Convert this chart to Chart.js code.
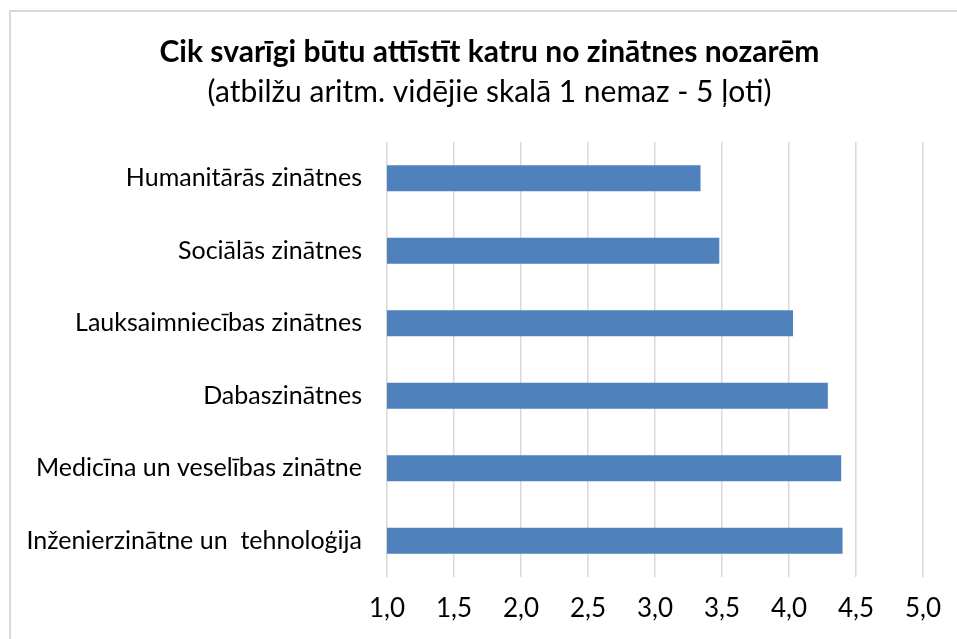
<!DOCTYPE html>
<html>
<head>
<meta charset="utf-8">
<script src="https://cdn.jsdelivr.net/npm/chart.js@4.4.1/dist/chart.umd.min.js"></script>
<style>
  html, body { margin: 0; padding: 0; background: #fff; }
  #wrap { width: 957px; height: 639px; }
</style>
</head>
<body>
<div id="wrap"><canvas id="myChart" width="957" height="639"></canvas></div>
<script>
const kategorijas = [
  'Humanitārās zinātnes',
  'Sociālās zinātnes',
  'Lauksaimniecības zinātnes',
  'Dabaszinātnes',
  'Medicīna un veselības zinātne',
  'Inženierzinātne un  tehnoloģija'
];
const vertibas = [3.34, 3.48, 4.03, 4.29, 4.39, 4.40];
const asisMin = 1;
const asisMax = 5;
const asisSolis = 0.5;

const fonts = 'Lato, "Open Sans", sans-serif';

// gray frame round the chart, like the Excel chart area border
const ramis = {
  id: 'ramis',
  beforeDraw(chart) {
    const c = chart.ctx;
    c.save();
    c.strokeStyle = '#d9d9d9';
    c.lineWidth = 2;
    c.beginPath();
    c.moveTo(10, 639);
    c.lineTo(10, 11);
    c.lineTo(957, 11);
    c.stroke();
    c.restore();
  }
};

const ctx = document.getElementById('myChart');

new Chart(ctx, {
  type: 'bar',
  data: {
    labels: kategorijas,
    datasets: [{
      label: '',
      data: vertibas,
      yAxisID: 'y',
      backgroundColor: '#4f81bd',
      borderWidth: 0,
      categoryPercentage: 1,
      barPercentage: 0.36
    }]
  },
  options: {
    responsive: false,
    animation: false,
    indexAxis: 'y',
    layout: {
      padding: { left: 22, right: 0, top: 0, bottom: 0 }
    },
    plugins: {
      legend: { display: false },
      tooltip: { enabled: false },
      title: {
        display: true,
        text: 'Cik svarīgi būtu attīstīt katru no zinātnes nozarēm',
        color: '#000',
        font: { family: fonts, size: 30, weight: 'bold', lineHeight: 1.2 },
        padding: { top: 34, bottom: 0 }
      },
      subtitle: {
        display: true,
        text: '(atbilžu aritm. vidējie skalā 1 nemaz - 5 ļoti)',
        color: '#000',
        font: { family: fonts, size: 30, lineHeight: 1.2 },
        padding: { top: 4, bottom: 32 }
      }
    },
    scales: {
      x: {
        min: asisMin,
        max: asisMax,
        ticks: {
          stepSize: asisSolis,
          color: '#000',
          font: { family: fonts, size: 26 },
          padding: 16,
          callback: function(value) {
            return value.toFixed(1).replace('.', ',');
          }
        },
        grid: { color: '#d9d9d9', lineWidth: 1.5, drawTicks: false },
        border: { display: false },
        afterFit: function(scale) { scale.height = 62; }
      },
      y: {
        ticks: {
          color: '#000',
          font: { family: fonts, size: 25 },
          padding: 25
        },
        grid: { display: false, drawTicks: false },
        border: { display: false },
        afterFit: function(scale) { scale.width = 365; }
      },
      // empty strip on the right so the plot ends where the reference does
      yTuksais: {
        position: 'right',
        display: true,
        ticks: { display: false },
        grid: { display: false, drawTicks: false },
        border: { display: false },
        afterFit: function(scale) { scale.width = 33; }
      }
    }
  },
  plugins: [ramis]
});
</script>
</body>
</html>
